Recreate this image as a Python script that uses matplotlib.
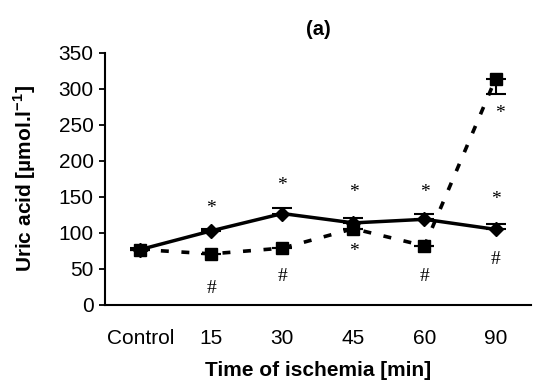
import matplotlib
matplotlib.use("Agg")
import matplotlib.pyplot as plt
import numpy as np

plt.rcParams['font.family'] = ['Liberation Sans', 'DejaVu Sans']
plt.rcParams['mathtext.fontset'] = 'custom'
plt.rcParams['mathtext.rm'] = 'Liberation Sans'
plt.rcParams['mathtext.bf'] = 'Liberation Sans:bold'

categories = ["Control", "15", "30", "45", "60", "90"]
solid_vals = [77, 103, 127, 114, 119, 105]
solid_err = [2, 3, 7, 7, 7, 8]
dashed_vals = [77, 71, 79, 106, 82, 314]
dashed_err_low = [0, 0, 0, 0, 0, 21]

star_labels_pos = [(1, 134), (2, 166), (3, 156), (4, 156), (5, 146), (3, 74), (5.06, 266)]
hash_labels_pos = [(1, 23), (2, 39), (4, 39), (5, 63)]

fig = plt.figure(figsize=(5.43, 3.83), dpi=100)
ax = fig.add_axes([0.193, 0.2037, 0.785, 0.658])
x = np.arange(len(categories))

ax.errorbar(x, solid_vals, yerr=[np.zeros(len(x)), solid_err], color='black', lw=2.5,
            marker='D', markersize=7.5, capsize=7, capthick=1.5, elinewidth=1.5)
ax.errorbar(x, dashed_vals, yerr=[dashed_err_low, np.zeros(len(x))], color='black', lw=2.6,
            ls=(0, (2.2, 3.5)), marker='s', markersize=8.5, capsize=7, capthick=1.5, elinewidth=1.5)

for xi, yi in star_labels_pos:
    ax.text(xi, yi, '*', ha='center', va='center', fontsize=14, family='Liberation Serif')
for xi, yi in hash_labels_pos:
    ax.text(xi, yi, '#', ha='center', va='center', fontsize=14, family='Liberation Serif')

ax.set_xlim(-0.5, 5.5)
ax.set_ylim(0, 350)
ax.set_yticks(np.arange(0, 351, 50))
ax.set_xticks(x)
ax.set_xticklabels(categories)
ax.tick_params(axis='x', length=0, pad=17, labelsize=15)
ax.tick_params(axis='y', length=4, width=1.3, direction='out', labelsize=15, pad=4)
for s in ['top', 'right']:
    ax.spines[s].set_visible(False)
for s in ['left', 'bottom']:
    ax.spines[s].set_linewidth(1.5)

ax.set_xlabel('Time of ischemia [min]', fontsize=15, fontweight='bold', labelpad=10)
ax.set_ylabel(r'Uric acid [µmol.l$^{\mathbf{-1}}$]', fontsize=15, fontweight='bold', labelpad=15)
ax.set_title('(a)', fontsize=14.5, fontweight='bold', pad=13)

fig.savefig('out.png', dpi=100)
